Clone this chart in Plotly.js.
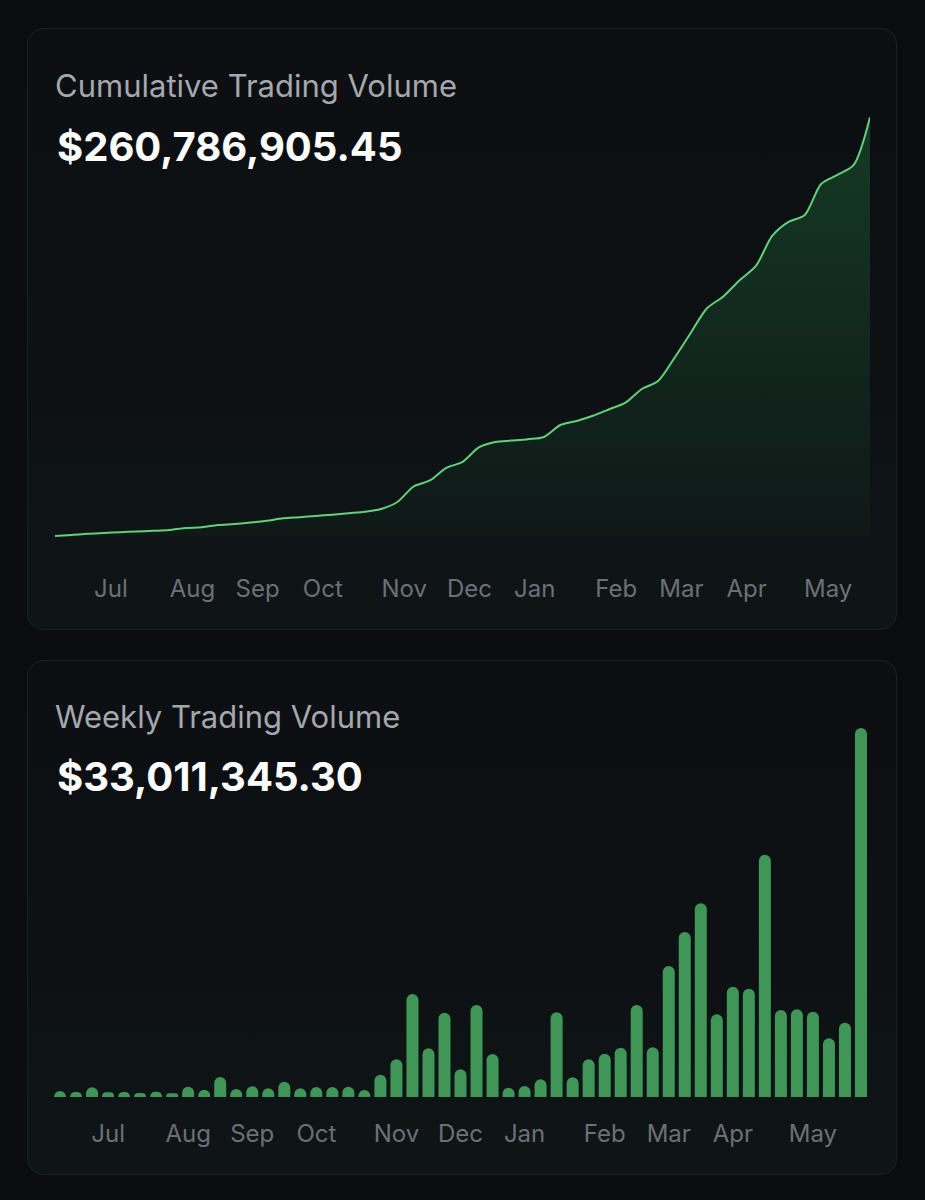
<!DOCTYPE html>
<html>
<head>
<meta charset="utf-8">
<script src="https://cdn.plot.ly/plotly-3.0.1.min.js"></script>
<style>
  html, body { margin: 0; padding: 0; background: #0b0c10; width: 925px; height: 1200px; overflow: hidden; }
  .card { position: absolute; left: 27px; width: 870px; box-sizing: border-box;
          border: 1px solid #1c1f24; border-radius: 16px;
          background: linear-gradient(180deg, #0c0e12 0%, #0d1114 60%, #0f1517 100%); }
  .plot { position: absolute; left: 27px; width: 870px; }
</style>
</head>
<body>
<div class="card" style="top:28px;height:602px;"></div>
<div class="card" style="top:660px;height:515px;"></div>
<div id="cum" class="plot" style="top:28px;height:602px;"></div>
<div id="weekly" class="plot" style="top:660px;height:515px;"></div>
<script>
// ---------- data ----------
const cumTitle = 'Cumulative Trading Volume';
const cumTotalLabel = '$260,786,905.45';
const weeklyTitle = 'Weekly Trading Volume';
const weeklyLastLabel = '$33,011,345.30';

const tickDates = ['2023-07-03','2023-08-07','2023-09-04','2023-10-02','2023-11-06','2023-12-04',
                   '2024-01-01','2024-02-05','2024-03-04','2024-04-01','2024-05-06'];
const tickLabels = ['Jul','Aug','Sep','Oct','Nov','Dec','Jan','Feb','Mar','Apr','May'];

// cumulative volume (USD millions), weekly points
const cumDates = ['2023-06-09','2023-06-16','2023-06-23','2023-06-30','2023-07-07','2023-07-14','2023-07-21','2023-07-28',
  '2023-08-04','2023-08-11','2023-08-18','2023-08-25','2023-09-01','2023-09-08','2023-09-15','2023-09-22','2023-09-29',
  '2023-10-06','2023-10-13','2023-10-20','2023-10-27','2023-11-03','2023-11-10','2023-11-17','2023-11-24',
  '2023-12-01','2023-12-08','2023-12-15','2023-12-22','2023-12-29','2024-01-05','2024-01-12','2024-01-19','2024-01-26',
  '2024-02-02','2024-02-09','2024-02-16','2024-02-23','2024-03-01','2024-03-08','2024-03-15','2024-03-22','2024-03-29',
  '2024-04-05','2024-04-12','2024-04-19','2024-04-26','2024-05-03','2024-05-10','2024-05-17','2024-05-24'];
const cumVolumeM = [0.62, 1.24, 1.99, 2.49, 2.98, 3.42, 3.85, 4.35,
  5.59, 6.09, 7.46, 8.08, 9.01, 10.13, 11.62, 12.30, 13.05,
  13.86, 14.79, 15.66, 17.40, 21.75, 31.38, 35.11, 42.88,
  46.61, 55.62, 59.03, 59.90, 60.77, 62.14, 69.60, 72.08, 75.31,
  79.35, 83.45, 91.97, 96.94, 111.23, 126.77, 142.11, 149.45, 159.51,
  168.40, 187.04, 195.74, 200.09, 219.35, 224.95, 231.16, 260.79];

// weekly volume (USD millions), week starting Monday
const weekDates = ['2023-06-12','2023-06-19','2023-06-26','2023-07-03','2023-07-10','2023-07-17','2023-07-24','2023-07-31',
  '2023-08-07','2023-08-14','2023-08-21','2023-08-28','2023-09-04','2023-09-11','2023-09-18','2023-09-25',
  '2023-10-02','2023-10-09','2023-10-16','2023-10-23','2023-10-30','2023-11-06','2023-11-13','2023-11-20','2023-11-27',
  '2023-12-04','2023-12-11','2023-12-18','2023-12-25','2024-01-01','2024-01-08','2024-01-15','2024-01-22','2024-01-29',
  '2024-02-05','2024-02-12','2024-02-19','2024-02-26','2024-03-04','2024-03-11','2024-03-18','2024-03-25',
  '2024-04-01','2024-04-08','2024-04-15','2024-04-22','2024-04-29','2024-05-06','2024-05-13','2024-05-20','2024-05-27'];
const weeklyVolumeM = [0.54, 0.45, 0.87, 0.42, 0.45, 0.36, 0.47, 0.33,
  0.92, 0.65, 1.79, 0.72, 0.96, 0.78, 1.37, 0.78,
  0.89, 0.89, 0.92, 0.63, 2.00, 3.37, 9.21, 4.36, 7.54,
  2.48, 8.23, 3.85, 0.83, 0.98, 1.58, 7.58, 1.76, 3.37,
  3.87, 4.41, 8.23, 4.45, 11.72, 14.76, 17.33, 7.40,
  9.87, 9.69, 21.68, 7.78, 7.85, 7.63, 5.25, 6.65, 33.01];

// ---------- style ----------
const FONT = 'Inter, "Noto Sans", sans-serif';
const lineColor = '#63d07c';
const barColor = '#3f9657';
const titleColor = '#a4a7ac';
const tickColor = '#6c7075';

const axisX = (range) => ({
  type: 'date', range: range, tickmode: 'array', tickvals: tickDates, ticktext: tickLabels,
  showgrid: false, zeroline: false, showline: false, ticks: '', ticklabelstandoff: 2,
  tickfont: { family: FONT, size: 24, color: tickColor }, fixedrange: true
});

// cumulative chart
Plotly.newPlot('cum', [{
  type: 'scatter', mode: 'lines', x: cumDates, y: cumVolumeM,
  line: { color: lineColor, width: 2, shape: 'spline', smoothing: 0.8 },
  fill: 'tozeroy',
  fillgradient: { type: 'vertical', start: 0, stop: 260.79,
    colorscale: [[0, 'rgba(40,150,75,0.04)'], [1, 'rgba(40,150,75,0.32)']] },
  hoverinfo: 'skip'
}], {
  width: 870, height: 602,
  margin: { l: 28, r: 27, t: 72, b: 60 },
  paper_bgcolor: 'rgba(0,0,0,0)', plot_bgcolor: 'rgba(0,0,0,0)',
  showlegend: false,
  title: { text: cumTitle, font: { family: FONT, size: 31, color: titleColor },
    x: 28 / 870, xanchor: 'left', xref: 'container', y: 1 - 58 / 602, yanchor: 'middle', yref: 'container' },
  xaxis: axisX(['2023-06-09', '2024-05-24']),
  yaxis: { range: [-20.5, 271.5], visible: false, fixedrange: true },
  annotations: [{ text: cumTotalLabel, xref: 'paper', yref: 'paper', x: 0, y: 0.902,
    xanchor: 'left', yanchor: 'middle', showarrow: false,
    font: { family: FONT, size: 40, color: '#ffffff', weight: 'bold' } }]
}, { displayModeBar: false, staticPlot: true });

// weekly chart
Plotly.newPlot('weekly', [{
  type: 'bar', x: weekDates, y: weeklyVolumeM,
  marker: { color: barColor, cornerradius: 6 },
  hoverinfo: 'skip'
}], {
  width: 870, height: 515,
  margin: { l: 17, r: 20, t: 60, b: 60 },
  paper_bgcolor: 'rgba(0,0,0,0)', plot_bgcolor: 'rgba(0,0,0,0)',
  bargap: 0.25, showlegend: false,
  title: { text: weeklyTitle, font: { family: FONT, size: 31, color: titleColor },
    x: 28 / 870, xanchor: 'left', xref: 'container', y: 1 - 57 / 515, yanchor: 'middle', yref: 'container' },
  xaxis: axisX(['2023-06-05', '2024-06-03']),
  yaxis: { range: [-1.61, 33.73], visible: false, fixedrange: true },
  annotations: [{ text: weeklyLastLabel, xref: 'paper', yref: 'paper', x: 11 / 833, y: 0.856,
    xanchor: 'left', yanchor: 'middle', showarrow: false,
    font: { family: FONT, size: 40, color: '#ffffff', weight: 'bold' } }]
}, { displayModeBar: false, staticPlot: true });
</script>
</body>
</html>
